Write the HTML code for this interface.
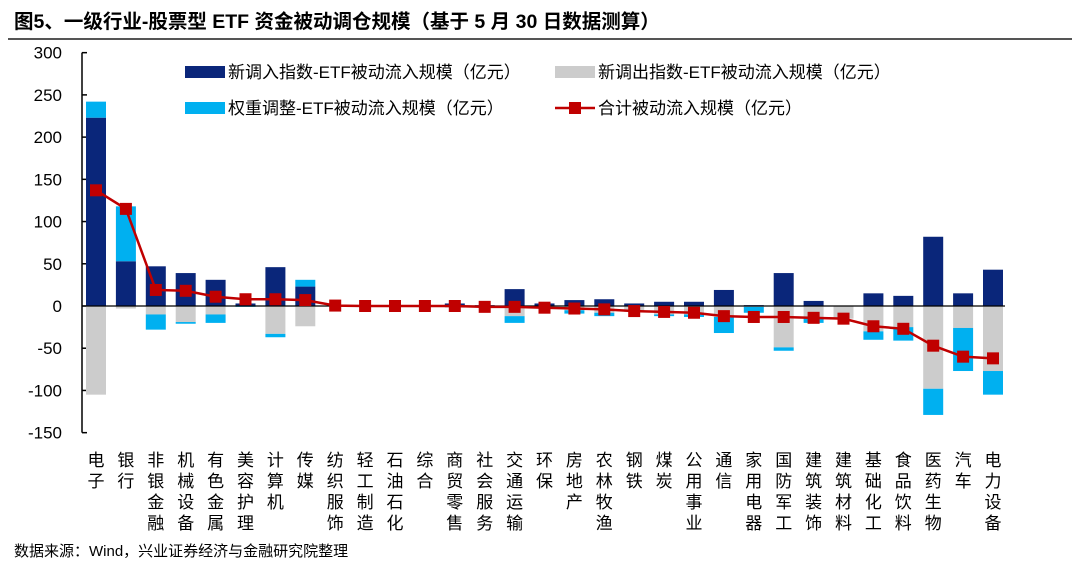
<!DOCTYPE html>
<html><head><meta charset="utf-8"><style>
body{margin:0;width:1080px;height:570px;background:#fff;font-family:"Liberation Sans","Noto Sans CJK SC",sans-serif;overflow:hidden}
svg text{font-family:"Liberation Sans","Noto Sans CJK SC",sans-serif}
</style></head><body>
<svg id="c" width="1080" height="570">
<text x="14" y="28" font-size="19.5" font-weight="bold" fill="#000">图5、一级行业-股票型 ETF 资金被动调仓规模（基于 5 月 30 日数据测算）</text>
<line x1="8" y1="39" x2="1072" y2="39" stroke="#555" stroke-width="2"/>
<text x="14" y="556" font-size="15" fill="#000">数据来源：Wind，兴业证券经济与金融研究院整理</text>
</svg>
<script>
const categories=["电子","银行","非银金融","机械设备","有色金属","美容护理","计算机","传媒","纺织服饰","轻工制造","石油石化","综合","商贸零售","社会服务","交通运输","环保","房地产","农林牧渔","钢铁","煤炭","公用事业","通信","家用电器","国防军工","建筑装饰","建筑材料","基础化工","食品饮料","医药生物","汽车","电力设备"];
const newIn=[223,53,47,39,31,3,46,23,0,0,0,0,3,1,20,3,7,8,3,5,5,19,1,39,6,0,15,12,82,15,43];
const newOut=[-105,-3,-10,-19,-10,0,-33,-24,0,0,0,0,-2,-1,-12,-3,-5,-8,-7,-10,-10,-13,-1,-49,-14,-15,-30,-25,-98,-26,-77];
const weightAdj=[19,65,-18,-2,-10,-1,-4,8,0,0,0,0,0,0,-8,0,-4,-4,0,-2,-3,-19,-7,-4,-6,0,-10,-16,-31,-51,-28];
const total=[137,115,19,18,11,8,8,7,0.5,0,0,0,0,-1,-1,-2,-3,-4,-6,-7,-8,-12,-13,-13,-14,-15,-24,-27,-47,-60,-62];
const yTicks=[300,250,200,150,100,50,0,-50,-100,-150];
const NS="http://www.w3.org/2000/svg",svg=document.getElementById('c');
const y0=306,k=380/450,x0=96,dx=29.9,bw=20;
const Y=v=>y0-v*k, X=i=>x0+i*dx;
function el(t,a,p){const e=document.createElementNS(NS,t);for(const q in a)e.setAttribute(q,a[q]);(p||svg).appendChild(e);return e;}
const ax=el('line',{x1:82,y1:Y(300),x2:82,y2:Y(-150),stroke:'#000','stroke-width':1.5});


yTicks.forEach(v=>{
 const t=el('line',{x1:82,x2:87,y1:Y(v),y2:Y(v),stroke:'#000','stroke-width':1.5});
 
 
 const l=el('text',{x:62,y:Y(v)+6,'font-size':17,'text-anchor':'end',fill:'#000'});l.textContent=v;
 
 
});
function bar(i,a,b,col,name){const r=el('rect',{x:X(i)-bw/2,y:Y(Math.max(a,b)),width:bw,height:Math.abs(Y(a)-Y(b)),fill:col});
 
 }
categories.forEach((c,i)=>{
 bar(i,0,newIn[i],'#0a267a','bar-new-in');
 bar(i,0,newOut[i],'#cccccc','bar-new-out');
 const w=weightAdj[i];
 if(w>0)bar(i,newIn[i],newIn[i]+w,'#00b0f0','bar-weight-adj');
 else if(w<0)bar(i,newOut[i],newOut[i]+w,'#00b0f0','bar-weight-adj');
 [...c].forEach((ch,j)=>{const t=el('text',{x:X(i),y:466+j*21,'font-size':17,'text-anchor':'middle',fill:'#000'});t.textContent=ch;
  
  });
});
const zl=el('line',{x1:82,x2:1005,y1:y0,y2:y0,stroke:'#000','stroke-width':1.2});


const pl=el('polyline',{points:total.map((v,i)=>X(i)+','+Y(v)).join(' '),fill:'none',stroke:'#c00000','stroke-width':2.5});


total.forEach((v,i)=>{const m=el('rect',{x:X(i)-6,y:Y(v)-6,width:12,height:12,fill:'#c00000'});
 
 });
const leg=[[185,72,'#0a267a','新调入指数-ETF被动流入规模（亿元）','rect'],[555,72,'#cccccc','新调出指数-ETF被动流入规模（亿元）','rect'],[185,108,'#00b0f0','权重调整-ETF被动流入规模（亿元）','rect'],[555,108,'#c00000','合计被动流入规模（亿元）','line']];
leg.forEach(L=>{const g=el('g',{});
 
 
 if(L[4]=='rect')el('rect',{x:L[0],y:L[1]-6,width:40,height:12,fill:L[2]},g);
 else{el('line',{x1:L[0],x2:L[0]+40,y1:L[1],y2:L[1],stroke:L[2],'stroke-width':2.5},g);el('rect',{x:L[0]+14,y:L[1]-6,width:12,height:12,fill:L[2]},g);}
 const t=el('text',{x:L[0]+43,y:L[1]+6,'font-size':17,fill:'#000'},g);t.textContent=L[3];});
</script>
</body></html>
